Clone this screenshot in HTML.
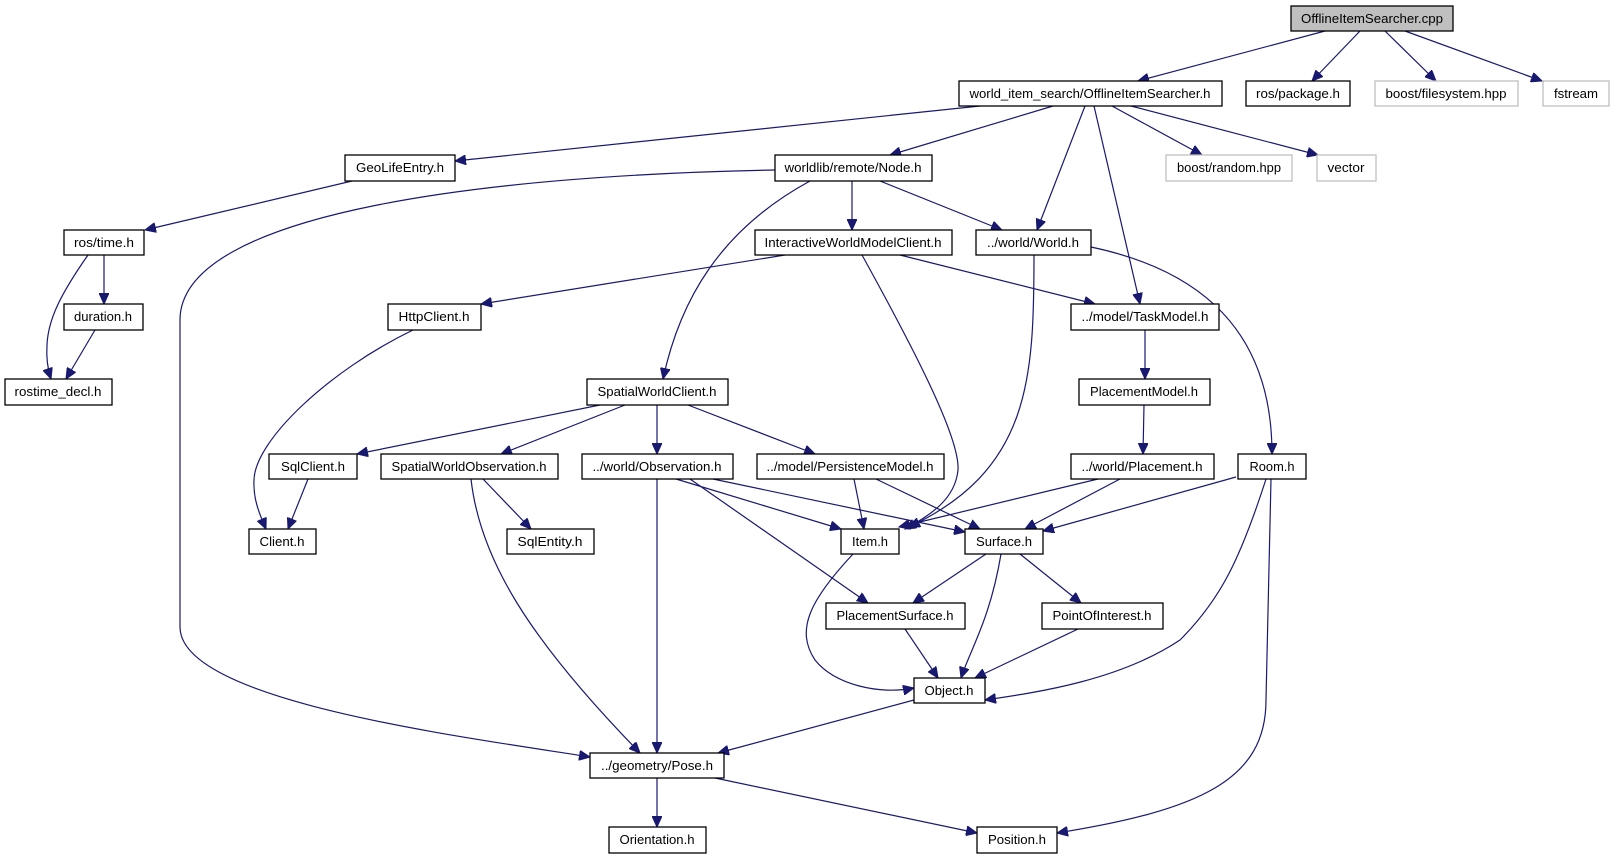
<!DOCTYPE html>
<html><head><meta charset="utf-8"><style>
html,body{margin:0;padding:0;background:#fff;}
svg{display:block;}
text{font-family:"Liberation Sans",sans-serif;font-size:13px;fill:#000;}
.e{fill:none;stroke:#191970;stroke-width:1.2;marker-end:url(#a);}
.b{fill:#fff;stroke:#000;stroke-width:1.3;}
.g{fill:#fff;stroke:#bfbfbf;stroke-width:1.3;}
</style></head><body>
<svg width="1615" height="859" viewBox="0 0 1615 859" xmlns="http://www.w3.org/2000/svg">
<defs><marker id="a" markerUnits="userSpaceOnUse" markerWidth="12" markerHeight="10" refX="11" refY="5" orient="auto"><path d="M0,0 L11,5 L0,10 z" fill="#191970" stroke="#191970"/></marker></defs>
<g>
<path class="e" d="M1325,31 L1138,81"/>
<path class="e" d="M1360,31 L1312,81"/>
<path class="e" d="M1385,31 L1436,81"/>
<path class="e" d="M1405,31 L1542,81"/>
<path class="e" d="M980,106 L455,161"/>
<path class="e" d="M1053,106 L890,155"/>
<path class="e" d="M1085,106 L1037,230"/>
<path class="e" d="M1094,106 L1140,304"/>
<path class="e" d="M1112,106 L1202,155"/>
<path class="e" d="M1131,106 L1318,155"/>
<path class="e" d="M352,181 L145,230"/>
<path class="e" d="M104,255 L104,304"/>
<path class="e" d="M88,255 C60,295 48,320 47,345 C46,360 48,370 51,379"/>
<path class="e" d="M95,330 L66,379"/>
<path class="e" d="M775,170 C500,175 180,210 180,320 L180,627 C180,700 450,735 590,757"/>
<path class="e" d="M852,181 L852,230"/>
<path class="e" d="M880,181 L1002,230"/>
<path class="e" d="M810,181 C720,230 680,300 663,379"/>
<path class="e" d="M785,255 L481,304"/>
<path class="e" d="M900,255 L1095,304"/>
<path class="e" d="M862,255 C920,360 960,440 958,470 C955,500 930,515 905,529"/>
<path class="e" d="M1034,255 C1034,380 1030,470 909,527"/>
<path class="e" d="M1091,247 C1200,270 1272,330 1272,454"/>
<path class="e" d="M1145,330 L1145,379"/>
<path class="e" d="M1144,405 L1143,454"/>
<path class="e" d="M413,330 C330,370 255,440 254,480 C253,500 260,515 266,529"/>
<path class="e" d="M600,405 L357,454"/>
<path class="e" d="M625,405 L501,454"/>
<path class="e" d="M657,405 L657,454"/>
<path class="e" d="M688,405 L815,454"/>
<path class="e" d="M308,479 L288,529"/>
<path class="e" d="M483,479 L531,529"/>
<path class="e" d="M471,479 C480,560 530,640 640,753"/>
<path class="e" d="M657,479 L657,753"/>
<path class="e" d="M676,479 L841,529"/>
<path class="e" d="M713,479 L965,532"/>
<path class="e" d="M690,479 L868,603"/>
<path class="e" d="M854,479 L864,529"/>
<path class="e" d="M876,479 L980,529"/>
<path class="e" d="M1098,479 L899,527"/>
<path class="e" d="M1120,479 L1025,529"/>
<path class="e" d="M1236,477 L1043,531"/>
<path class="e" d="M1266,479 C1240,560 1220,600 1180,640 C1120,680 1040,692 985,700"/>
<path class="e" d="M1271,479 L1266,700 C1266,780 1200,810 1057,833"/>
<path class="e" d="M853,554 C810,600 795,630 815,660 C835,685 880,695 914,688"/>
<path class="e" d="M986,554 L913,603"/>
<path class="e" d="M1001,554 C990,620 970,650 961,678"/>
<path class="e" d="M1020,554 L1081,603"/>
<path class="e" d="M905,629 L938,678"/>
<path class="e" d="M1078,629 L975,678"/>
<path class="e" d="M914,700 L718,753"/>
<path class="e" d="M657,778 L657,827"/>
<path class="e" d="M715,778 L977,833"/>
</g>
<g text-anchor="middle">
<rect x="1291" y="6" width="162" height="25" fill="#bfbfbf" stroke="#000" stroke-width="1.3"/><text x="1372" y="23" textLength="142" lengthAdjust="spacingAndGlyphs">OfflineItemSearcher.cpp</text>
<rect class="b" x="959" y="81" width="263" height="25"/><text x="1090" y="98" textLength="241" lengthAdjust="spacingAndGlyphs">world_item_search/OfflineItemSearcher.h</text>
<rect class="b" x="1246" y="81" width="104" height="25"/><text x="1298" y="98" textLength="84" lengthAdjust="spacingAndGlyphs">ros/package.h</text>
<rect class="g" x="1375" y="81" width="143" height="25"/><text x="1446" y="98" textLength="121" lengthAdjust="spacingAndGlyphs">boost/filesystem.hpp</text>
<rect class="g" x="1543" y="81" width="66" height="25"/><text x="1576" y="98" textLength="44" lengthAdjust="spacingAndGlyphs">fstream</text>
<rect class="b" x="345" y="155" width="110" height="26"/><text x="400" y="172" textLength="88" lengthAdjust="spacingAndGlyphs">GeoLifeEntry.h</text>
<rect class="b" x="775" y="155" width="157" height="26"/><text x="853" y="172" textLength="137" lengthAdjust="spacingAndGlyphs">worldlib/remote/Node.h</text>
<rect class="g" x="1166" y="155" width="126" height="26"/><text x="1229" y="172" textLength="104" lengthAdjust="spacingAndGlyphs">boost/random.hpp</text>
<rect class="g" x="1317" y="155" width="59" height="26"/><text x="1346" y="172" textLength="37" lengthAdjust="spacingAndGlyphs">vector</text>
<rect class="b" x="64" y="230" width="80" height="25"/><text x="104" y="247" textLength="60" lengthAdjust="spacingAndGlyphs">ros/time.h</text>
<rect class="b" x="755" y="230" width="197" height="25"/><text x="853" y="247" textLength="177" lengthAdjust="spacingAndGlyphs">InteractiveWorldModelClient.h</text>
<rect class="b" x="976" y="230" width="115" height="25"/><text x="1033" y="247" textLength="92" lengthAdjust="spacingAndGlyphs">../world/World.h</text>
<rect class="b" x="64" y="304" width="79" height="26"/><text x="103" y="321" textLength="58" lengthAdjust="spacingAndGlyphs">duration.h</text>
<rect class="b" x="388" y="304" width="93" height="26"/><text x="434" y="321" textLength="71" lengthAdjust="spacingAndGlyphs">HttpClient.h</text>
<rect class="b" x="1071" y="304" width="148" height="26"/><text x="1145" y="321" textLength="127" lengthAdjust="spacingAndGlyphs">../model/TaskModel.h</text>
<rect class="b" x="5" y="379" width="107" height="26"/><text x="58" y="396" textLength="87" lengthAdjust="spacingAndGlyphs">rostime_decl.h</text>
<rect class="b" x="587" y="379" width="141" height="26"/><text x="657" y="396" textLength="119" lengthAdjust="spacingAndGlyphs">SpatialWorldClient.h</text>
<rect class="b" x="1079" y="379" width="131" height="26"/><text x="1144" y="396" textLength="108" lengthAdjust="spacingAndGlyphs">PlacementModel.h</text>
<rect class="b" x="269" y="454" width="88" height="25"/><text x="313" y="471" textLength="64" lengthAdjust="spacingAndGlyphs">SqlClient.h</text>
<rect class="b" x="381" y="454" width="177" height="25"/><text x="469" y="471" textLength="155" lengthAdjust="spacingAndGlyphs">SpatialWorldObservation.h</text>
<rect class="b" x="582" y="454" width="151" height="25"/><text x="657" y="471" textLength="129" lengthAdjust="spacingAndGlyphs">../world/Observation.h</text>
<rect class="b" x="757" y="454" width="187" height="25"/><text x="850" y="471" textLength="167" lengthAdjust="spacingAndGlyphs">../model/PersistenceModel.h</text>
<rect class="b" x="1071" y="454" width="143" height="25"/><text x="1142" y="471" textLength="121" lengthAdjust="spacingAndGlyphs">../world/Placement.h</text>
<rect class="b" x="1238" y="454" width="68" height="25"/><text x="1272" y="471" textLength="45" lengthAdjust="spacingAndGlyphs">Room.h</text>
<rect class="b" x="249" y="529" width="67" height="25"/><text x="282" y="546" textLength="45" lengthAdjust="spacingAndGlyphs">Client.h</text>
<rect class="b" x="507" y="529" width="87" height="25"/><text x="550" y="546" textLength="65" lengthAdjust="spacingAndGlyphs">SqlEntity.h</text>
<rect class="b" x="841" y="529" width="58" height="25"/><text x="870" y="546" textLength="36" lengthAdjust="spacingAndGlyphs">Item.h</text>
<rect class="b" x="965" y="529" width="78" height="25"/><text x="1004" y="546" textLength="56" lengthAdjust="spacingAndGlyphs">Surface.h</text>
<rect class="b" x="826" y="603" width="139" height="26"/><text x="895" y="620" textLength="117" lengthAdjust="spacingAndGlyphs">PlacementSurface.h</text>
<rect class="b" x="1042" y="603" width="121" height="26"/><text x="1102" y="620" textLength="99" lengthAdjust="spacingAndGlyphs">PointOfInterest.h</text>
<rect class="b" x="914" y="678" width="71" height="25"/><text x="949" y="695" textLength="49" lengthAdjust="spacingAndGlyphs">Object.h</text>
<rect class="b" x="590" y="753" width="134" height="25"/><text x="657" y="770" textLength="112" lengthAdjust="spacingAndGlyphs">../geometry/Pose.h</text>
<rect class="b" x="609" y="827" width="97" height="26"/><text x="657" y="844" textLength="75" lengthAdjust="spacingAndGlyphs">Orientation.h</text>
<rect class="b" x="977" y="827" width="80" height="26"/><text x="1017" y="844" textLength="58" lengthAdjust="spacingAndGlyphs">Position.h</text>
</g>
</svg>
</body></html>
